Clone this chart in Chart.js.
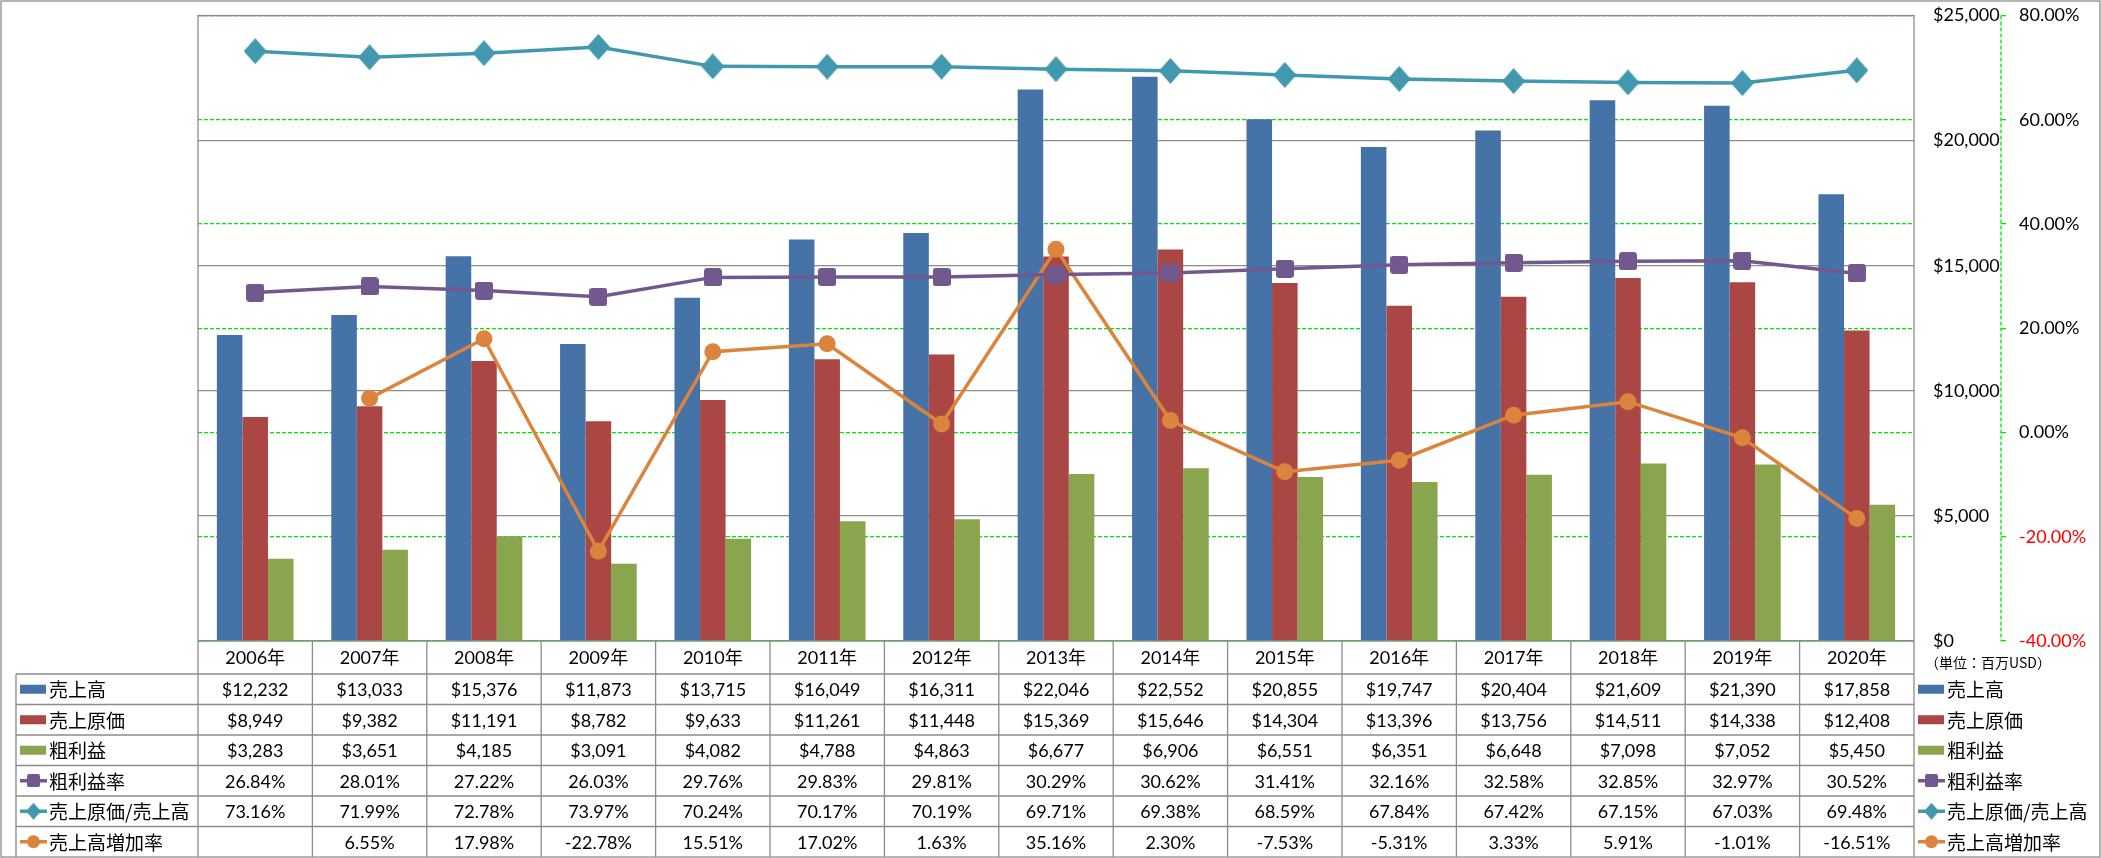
<!DOCTYPE html>
<html>
<head>
<meta charset="utf-8">
<script src="https://cdn.jsdelivr.net/npm/chart.js@4.4.0/dist/chart.umd.min.js"></script>
<style>
  html, body { margin: 0; padding: 0; background: #fff; }
  canvas { display: block; }
</style>
</head>
<body>
<canvas id="myChart" width="2101" height="858"></canvas>
<script>
// categories
let years = ['2006年', '2007年', '2008年', '2009年', '2010年', '2011年', '2012年', '2013年',
             '2014年', '2015年', '2016年', '2017年', '2018年', '2019年', '2020年'];

// amounts (million USD)
let sales = [12232, 13033, 15376, 11873, 13715, 16049, 16311, 22046, 22552, 20855, 19747, 20404, 21609, 21390, 17858];
let cost = [8949, 9382, 11191, 8782, 9633, 11261, 11448, 15369, 15646, 14304, 13396, 13756, 14511, 14338, 12408];
let gross = [3283, 3651, 4185, 3091, 4082, 4788, 4863, 6677, 6906, 6551, 6351, 6648, 7098, 7052, 5450];

// ratios (%)
let grossRate = [26.84, 28.01, 27.22, 26.03, 29.76, 29.83, 29.81, 30.29, 30.62, 31.41, 32.16, 32.58, 32.85, 32.97, 30.52];
let costRate = [73.16, 71.99, 72.78, 73.97, 70.24, 70.17, 70.19, 69.71, 69.38, 68.59, 67.84, 67.42, 67.15, 67.03, 69.48];
let growth = [null, 6.55, 17.98, -22.78, 15.51, 17.02, 1.63, 35.16, 2.30, -7.53, -5.31, 3.33, 5.91, -1.01, -16.51];

let names = ['売上高', '売上原価', '粗利益', '粗利益率', '売上原価/売上高', '売上高増加率'];
let colors = ['#4572A7', '#AA4643', '#89A54E', '#71588F', '#4198AF', '#DB843D'];
let unitNote = '（単位：百万USD）';

const numFont = '18px Lato, "Noto Sans CJK JP", sans-serif';
const jpFont = '19px "Noto Sans CJK JP", sans-serif';

function money(v) { return '$' + v.toLocaleString('en-US'); }
function pct(v) { return v == null ? '' : v.toFixed(2) + '%'; }

// marker images
function roundSquare(size, r, color) {
    let c = document.createElement('canvas');
    c.width = size; c.height = size;
    let g = c.getContext('2d');
    g.fillStyle = color;
    g.beginPath();
    g.moveTo(r, 0);
    g.arcTo(size, 0, size, size, r);
    g.arcTo(size, size, 0, size, r);
    g.arcTo(0, size, 0, 0, r);
    g.arcTo(0, 0, size, 0, r);
    g.closePath();
    g.fill();
    return c;
}
function diamond(w, h, color) {
    let c = document.createElement('canvas');
    c.width = w; c.height = h;
    let g = c.getContext('2d');
    g.fillStyle = color;
    g.beginPath();
    g.moveTo(w / 2, 0);
    g.lineTo(w, h / 2);
    g.lineTo(w / 2, h);
    g.lineTo(0, h / 2);
    g.closePath();
    g.fill();
    return c;
}

let purpleSq = roundSquare(18, 3, colors[3]);
let tealDia = diamond(23, 26, colors[4]);
let purpleSqSmall = roundSquare(13, 2, colors[3]);
let tealDiaSmall = diamond(15, 17, colors[4]);

// table rows: values, formatter, legend symbol
let rows = [
    { values: sales, fmt: money, sym: 'bar' },
    { values: cost, fmt: money, sym: 'bar' },
    { values: gross, fmt: money, sym: 'bar' },
    { values: grossRate, fmt: pct, sym: 'square' },
    { values: costRate, fmt: pct, sym: 'diamond' },
    { values: growth, fmt: pct, sym: 'circle' }
];

function drawSymbol(ctx, i, x, cy) {
    let s = rows[i].sym;
    ctx.fillStyle = colors[i];
    if (s === 'bar') {
        ctx.fillRect(x, cy - 4.5, 26, 9);
        return;
    }
    ctx.strokeStyle = colors[i];
    ctx.lineWidth = 3.5;
    ctx.beginPath();
    ctx.moveTo(x, cy);
    ctx.lineTo(x + 27, cy);
    ctx.stroke();
    let mx = x + 13.5;
    if (s === 'square') ctx.drawImage(purpleSqSmall, mx - 6.5, cy - 6.5);
    else if (s === 'diamond') ctx.drawImage(tealDiaSmall, mx - 7.5, cy - 8.5);
    else {
        ctx.beginPath();
        ctx.arc(mx, cy, 6.5, 0, Math.PI * 2);
        ctx.fill();
    }
}

// data table under the plot
const tablePlugin = {
    id: 'dataTable',
    afterDraw(chart) {
        const ctx = chart.ctx;
        const area = chart.chartArea;
        const xs = chart.scales.x;
        const colW = (area.right - area.left) / years.length;
        const headTop = area.bottom;
        const rowsTop = headTop + 33;
        const rowH = 30.5;
        const bottom = rowsTop + rowH * rows.length;
        const tableLeft = 16;

        ctx.save();
        ctx.strokeStyle = '#8c8c8c';
        ctx.lineWidth = 1.3;
        ctx.strokeRect(area.left, area.top, area.right - area.left, area.bottom - area.top);
        ctx.beginPath();
        for (let r = 0; r < rows.length; r++) {
            let y = rowsTop + r * rowH;
            ctx.moveTo(tableLeft, y);
            ctx.lineTo(area.right, y);
        }
        for (let i = 0; i <= years.length; i++) {
            let x = area.left + i * colW;
            ctx.moveTo(x, headTop);
            ctx.lineTo(x, bottom);
        }
        ctx.moveTo(tableLeft, rowsTop);
        ctx.lineTo(tableLeft, bottom);
        ctx.stroke();
        ctx.strokeRect(1, 1, chart.width - 2, chart.height - 2);

        ctx.fillStyle = '#000';
        ctx.textBaseline = 'middle';
        ctx.textAlign = 'center';
        ctx.font = numFont;
        years.forEach((yr, i) => {
            let cx = xs.getPixelForValue(i);
            ctx.fillText(yr, cx, headTop + 17);
            rows.forEach((row, r) => {
                ctx.fillText(row.fmt(row.values[i]), cx, rowsTop + r * rowH + rowH / 2 + 1);
            });
        });

        // row labels + right legend
        rows.forEach((row, r) => {
            let cy = rowsTop + r * rowH + rowH / 2;
            drawSymbol(ctx, r, 20, cy);
            drawSymbol(ctx, r, 1918, cy);
            ctx.fillStyle = '#000';
            ctx.textAlign = 'left';
            ctx.font = jpFont;
            ctx.fillText(names[r], 49, cy + 1);
            ctx.fillText(names[r], 1947, cy + 1);
        });

        ctx.font = '14px "Noto Sans CJK JP", sans-serif';
        ctx.textAlign = 'left';
        ctx.fillText(unitNote, 1925, headTop + 22);

        // percent axis line (dashed)
        const y1 = chart.scales.y1;
        ctx.strokeStyle = '#00e600';
        ctx.lineWidth = 1.3;
        ctx.setLineDash([4, 2]);
        ctx.beginPath();
        ctx.moveTo(y1.left, area.top);
        ctx.lineTo(y1.left, area.bottom);
        ctx.stroke();
        ctx.restore();
    }
};

function fixAxis(width) {
    return s => {
        s.width = width;
        s.paddingTop = 0;
        s.paddingBottom = 0;
    };
}

let ctxMain = document.getElementById('myChart').getContext('2d');

let chart = new Chart(ctxMain, {
    type: 'bar',
    data: {
        labels: years,
        datasets: [
            { label: names[0], data: sales, backgroundColor: colors[0], yAxisID: 'y', order: 1 },
            { label: names[1], data: cost, backgroundColor: colors[1], yAxisID: 'y', order: 1 },
            { label: names[2], data: gross, backgroundColor: colors[2], yAxisID: 'y', order: 1 },
            {
                type: 'line', label: names[3], data: grossRate, yAxisID: 'y1', order: 0,
                borderColor: colors[3], borderWidth: 3.5,
                pointStyle: purpleSq, pointRadius: 9
            },
            {
                type: 'line', label: names[4], data: costRate, yAxisID: 'y1', order: 0,
                borderColor: colors[4], borderWidth: 3.5,
                pointStyle: tealDia, pointRadius: 12
            },
            {
                type: 'line', label: names[5], data: growth, yAxisID: 'y1', order: 0,
                borderColor: colors[5], borderWidth: 3.5,
                pointStyle: 'circle', pointRadius: 8.5,
                pointBackgroundColor: colors[5], pointBorderColor: colors[5], pointBorderWidth: 0
            }
        ]
    },
    options: {
        responsive: false,
        animation: false,
        layout: { padding: { left: 198, top: 13, right: 0, bottom: 217 } },
        datasets: {
            bar: { barPercentage: 1, categoryPercentage: 0.67 }
        },
        plugins: {
            legend: { display: false },
            tooltip: { enabled: false }
        },
        scales: {
            x: { display: false },
            y: {
                position: 'right',
                min: 0,
                max: 25000,
                ticks: {
                    stepSize: 5000,
                    padding: 19,
                    color: '#000',
                    font: { family: 'Lato', size: 18 },
                    callback: v => money(v)
                },
                grid: { color: '#8c8c8c', lineWidth: 1.3, drawTicks: false },
                border: { display: false },
                afterFit: fixAxis(87)
            },
            y1: {
                position: 'right',
                min: -40,
                max: 80,
                ticks: {
                    stepSize: 20,
                    padding: 13,
                    color: c => c.tick.value < 0 ? '#ff0000' : '#000',
                    font: { family: 'Lato', size: 18 },
                    callback: v => v.toFixed(2) + '%'
                },
                grid: { color: '#00e600', lineWidth: 1.3, drawTicks: true, tickLength: 5 },
                border: { display: false, dash: [4, 2] },
                afterFit: fixAxis(100)
            }
        }
    },
    plugins: [tablePlugin]
});
</script>
</body>
</html>
